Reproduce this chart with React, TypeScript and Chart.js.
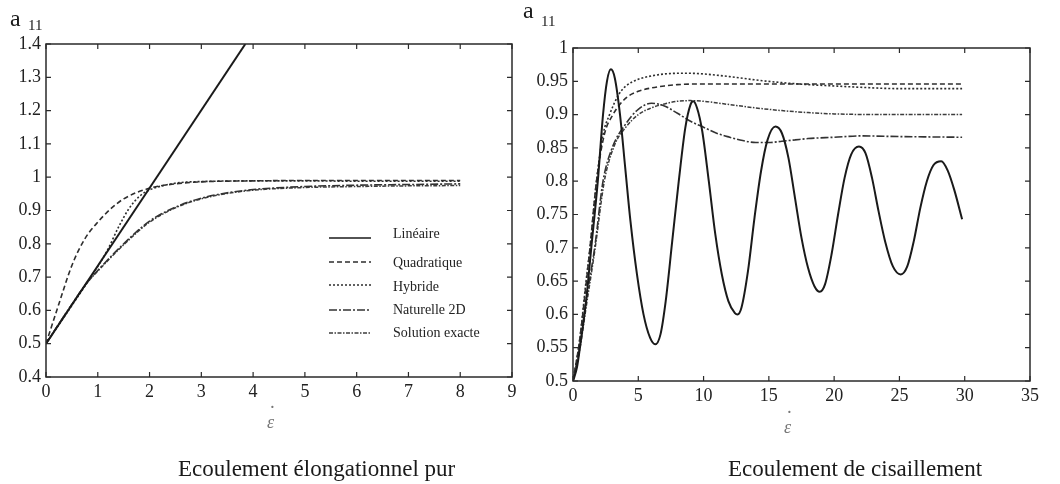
import React, { useEffect, useRef } from 'react';
import { Chart, registerables } from 'chart.js';

Chart.register(...registerables);

// ---------- Data: Ecoulement élongationnel pur ----------
const seriesLabels = ['Linéaire', 'Quadratique', 'Hybride', 'Naturelle 2D', 'Solution exacte'];

const elongLinX = [0, 3.85];
const elongLinY = [0.5, 1.4];
const elongQuadX = [0, 0.25, 0.5, 0.75, 1, 1.25, 1.5, 2, 2.5, 3, 4, 5, 6, 7, 8];
const elongQuadY = [0.5, 0.62, 0.735, 0.815, 0.865, 0.905, 0.935, 0.967, 0.98, 0.986, 0.989, 0.99, 0.99, 0.99, 0.99];
const elongHybX = [0, 0.5, 1, 1.2, 1.4, 1.6, 1.8, 2, 2.3, 2.6, 3, 4, 5, 6, 7, 8];
const elongHybY = [0.5, 0.615, 0.732, 0.785, 0.85, 0.905, 0.942, 0.962, 0.976, 0.984, 0.987, 0.989, 0.989, 0.988, 0.988, 0.988];
const elongNatX = [0, 0.4, 0.8, 1, 1.5, 2, 2.5, 3, 3.5, 4, 5, 6, 7, 8];
const elongNatY = [0.5, 0.595, 0.685, 0.72, 0.8, 0.868, 0.91, 0.937, 0.953, 0.963, 0.972, 0.976, 0.978, 0.98];
const elongExX = [0, 0.4, 0.8, 1, 1.5, 2, 2.5, 3, 3.5, 4, 5, 6, 7, 8];
const elongExY = [0.5, 0.595, 0.684, 0.718, 0.797, 0.865, 0.908, 0.935, 0.951, 0.961, 0.969, 0.972, 0.974, 0.975];

// ---------- Data: Ecoulement de cisaillement ----------
const shearLinX = [0, 0.3, 0.6, 1.0, 1.4, 1.9, 2.3, 2.6, 2.9, 3.2, 3.6, 4.0, 4.4, 4.9, 5.4, 5.9, 6.3, 6.7, 7.1, 7.6, 8.1, 8.6, 9.0, 9.2, 9.5, 9.9, 10.4, 10.9, 11.4, 11.9, 12.4, 12.6, 12.9, 13.4, 13.9, 14.4, 14.9, 15.5, 16.0, 16.5, 17.0, 17.5, 18.0, 18.5, 18.9, 19.3, 19.8, 20.3, 20.8, 21.3, 21.9, 22.4, 22.9, 23.4, 23.9, 24.5, 25.1, 25.6, 26.1, 26.6, 27.1, 27.6, 28.2, 28.7, 29.2, 29.8];
const shearLinY = [0.5, 0.52, 0.56, 0.62, 0.7, 0.8, 0.9, 0.95, 0.968, 0.955, 0.9, 0.82, 0.74, 0.66, 0.6, 0.565, 0.555, 0.57, 0.62, 0.71, 0.8, 0.88, 0.915, 0.92, 0.91, 0.875, 0.8, 0.72, 0.66, 0.62, 0.602, 0.6, 0.61, 0.665, 0.745, 0.815, 0.862, 0.882, 0.872, 0.835, 0.775, 0.715, 0.67, 0.642, 0.634, 0.645, 0.69, 0.75, 0.805, 0.84, 0.852, 0.842, 0.805, 0.755, 0.71, 0.672, 0.66, 0.672, 0.71, 0.76, 0.8, 0.824, 0.83, 0.816, 0.787, 0.743];
const shearQuadX = [0, 0.5, 1, 1.3, 1.8, 2.4, 3.06, 4, 5, 6, 7, 8, 10, 15, 20, 25, 29.8];
const shearQuadY = [0.5, 0.56, 0.645, 0.7, 0.8, 0.87, 0.9, 0.924, 0.935, 0.94, 0.943, 0.945, 0.946, 0.946, 0.946, 0.946, 0.946];
const shearHybX = [0, 0.5, 1, 1.3, 1.8, 2.3, 2.8, 3.5, 4, 5, 6, 7, 8, 9, 10, 12, 14, 16, 18, 20, 22, 25, 29.8];
const shearHybY = [0.5, 0.56, 0.65, 0.7, 0.8, 0.87, 0.9, 0.93, 0.942, 0.953, 0.958, 0.961, 0.962, 0.962, 0.961, 0.957, 0.952, 0.948, 0.945, 0.943, 0.941, 0.939, 0.939];
const shearNatX = [0, 0.5, 1, 1.66, 2.3, 3, 4, 5, 6, 7, 8, 9, 10, 11, 12, 13, 14, 15, 16, 17, 18, 20, 22, 25, 29.8];
const shearNatY = [0.5, 0.55, 0.62, 0.7, 0.8, 0.85, 0.885, 0.908, 0.917, 0.913, 0.902, 0.89, 0.881, 0.872, 0.866, 0.861, 0.858, 0.858, 0.86, 0.862, 0.864, 0.866, 0.868, 0.867, 0.866];
const shearExX = [0, 0.5, 1, 1.7, 2.4, 3.2, 4, 5, 6, 7, 8, 9, 10, 12, 14, 16, 18, 20, 25, 29.8];
const shearExY = [0.5, 0.545, 0.61, 0.7, 0.8, 0.855, 0.88, 0.9, 0.91, 0.916, 0.92, 0.921, 0.92, 0.915, 0.91, 0.906, 0.903, 0.901, 0.9, 0.9];

const elongXTicks = { min: 0, max: 9, step: 1 };
const elongYTicks = { min: 0.4, max: 1.4, step: 0.1 };
const shearXTicks = { min: 0, max: 35, step: 5 };
const shearYTicks = { min: 0.5, max: 1, step: 0.05 };

const styles = [
  { color: '#1a1a1a', width: 2, dash: [] as number[] },
  { color: '#2e2e2e', width: 1.6, dash: [5, 3] },
  { color: '#2e2e2e', width: 1.6, dash: [2, 2] },
  { color: '#333', width: 1.6, dash: [8, 2, 2, 2] },
  { color: '#3c3c3c', width: 1.5, dash: [4, 1.5, 1.5, 1.5] },
];

const pts = (xs: number[], ys: number[]) => xs.map((x, i) => ({ x, y: ys[i] }));

const FONT = '"Liberation Serif", "Times New Roman", serif';

const framePlugin = {
  id: 'frame',
  afterDraw(chart: any) {
    const { ctx, chartArea: a, scales } = chart;
    ctx.save();
    ctx.strokeStyle = '#2a2a2a';
    ctx.lineWidth = 1.5;
    ctx.strokeRect(a.left, a.top, a.right - a.left, a.bottom - a.top);
    ctx.lineWidth = 1.2;
    const L = 5;
    scales.x.ticks.forEach((t: any) => {
      const px = scales.x.getPixelForValue(t.value);
      ctx.beginPath();
      ctx.moveTo(px, a.bottom);
      ctx.lineTo(px, a.bottom - L);
      ctx.moveTo(px, a.top);
      ctx.lineTo(px, a.top + L);
      ctx.stroke();
    });
    scales.y.ticks.forEach((t: any) => {
      const py = scales.y.getPixelForValue(t.value);
      ctx.beginPath();
      ctx.moveTo(a.left, py);
      ctx.lineTo(a.left + L, py);
      ctx.moveTo(a.right, py);
      ctx.lineTo(a.right - L, py);
      ctx.stroke();
    });
    ctx.restore();
  },
};

const legendPlugin = {
  id: 'insideLegend',
  afterDraw(chart: any) {
    const { ctx } = chart;
    const lineRows = [238, 262, 285, 310, 333];
    const textRows = [234, 263, 287, 310, 333];
    chart.data.datasets.forEach((ds: any, i: number) => {
      ctx.save();
      ctx.strokeStyle = ds.borderColor;
      ctx.lineWidth = Math.min(ds.borderWidth, 1.5);
      ctx.setLineDash(ds.borderDash || []);
      ctx.beginPath();
      ctx.moveTo(329, lineRows[i]);
      ctx.lineTo(371, lineRows[i]);
      ctx.stroke();
      ctx.setLineDash([]);
      ctx.fillStyle = '#222';
      ctx.font = `14px ${FONT}`;
      ctx.textBaseline = 'middle';
      ctx.fillText(ds.label, 393, textRows[i]);
      ctx.restore();
    });
  },
};

const fmt = (v: any) => String(+Number(v).toFixed(2));

function makeConfig(
  series: { x: number[]; y: number[] }[],
  xt: { min: number; max: number; step: number },
  yt: { min: number; max: number; step: number },
  yWidth: number,
  padding: { top: number; right: number; bottom: number },
  plugins: any[]
): any {
  return {
    type: 'line',
    data: {
      datasets: series.map((s, i) => ({
        label: seriesLabels[i],
        data: pts(s.x, s.y),
        borderColor: styles[i].color,
        borderWidth: styles[i].width,
        borderDash: styles[i].dash,
        pointRadius: 0,
        fill: false,
        cubicInterpolationMode: 'monotone',
      })),
    },
    options: {
      responsive: false,
      animation: false,
      devicePixelRatio: 1,
      layout: { padding: { left: 0, top: padding.top, right: padding.right, bottom: padding.bottom } },
      plugins: { legend: { display: false }, tooltip: { enabled: false } },
      scales: {
        x: {
          type: 'linear',
          min: xt.min,
          max: xt.max,
          grid: { display: false, drawTicks: false, tickLength: 0 },
          border: { display: false },
          ticks: { stepSize: xt.step, padding: 4, color: '#222', font: { family: FONT, size: 18 }, maxRotation: 0, callback: fmt },
          afterFit: (s: any) => { s.height = 30; },
        },
        y: {
          type: 'linear',
          min: yt.min,
          max: yt.max,
          grid: { display: false, drawTicks: false, tickLength: 0 },
          border: { display: false },
          ticks: { stepSize: yt.step, padding: 5, color: '#222', font: { family: FONT, size: 18 }, callback: fmt },
          afterFit: (s: any) => { s.width = yWidth; },
        },
      },
    },
    plugins,
  };
}

function ChartCanvas({ config, left, width }: { config: any; left: number; width: number }) {
  const ref = useRef<HTMLCanvasElement | null>(null);
  useEffect(() => {
    if (!ref.current) return;
    const chart = new Chart(ref.current, config);
    return () => chart.destroy();
  }, []);
  return (
    <canvas
      ref={ref}
      width={width}
      height={484}
      style={{ position: 'absolute', left, top: 0, width, height: 484 }}
    />
  );
}

const textStyle: React.CSSProperties = {
  position: 'absolute',
  fontFamily: FONT,
  lineHeight: 1,
  color: '#1a1a1a',
  whiteSpace: 'nowrap',
};

function EpsDot({ cx, baseline }: { cx: number; baseline: number }) {
  // italic epsilon with a dot above (strain-rate symbol)
  return (
    <span style={{ ...textStyle, left: cx - 5, top: baseline - 15, fontSize: 18, fontStyle: 'italic', color: '#777' }}>
      <span style={{ position: 'absolute', left: 2, top: -10, fontStyle: 'normal', fontSize: 20 }}>˙</span>
      ε
    </span>
  );
}

export default function App() {
  useEffect(() => {
    document.body.style.margin = '0';
  }, []);

  const leftCfg = makeConfig(
    [
      { x: elongLinX, y: elongLinY },
      { x: elongQuadX, y: elongQuadY },
      { x: elongHybX, y: elongHybY },
      { x: elongNatX, y: elongNatY },
      { x: elongExX, y: elongExY },
    ],
    elongXTicks,
    elongYTicks,
    46,
    { top: 44, right: 18, bottom: 77 },
    [framePlugin, legendPlugin]
  );
  const rightCfg = makeConfig(
    [
      { x: shearLinX, y: shearLinY },
      { x: shearQuadX, y: shearQuadY },
      { x: shearHybX, y: shearHybY },
      { x: shearNatX, y: shearNatY },
      { x: shearExX, y: shearExY },
    ],
    shearXTicks,
    shearYTicks,
    53,
    { top: 48, right: 30, bottom: 73 },
    [framePlugin]
  );

  return (
    <div style={{ position: 'relative', width: 1060, height: 484, background: '#fff', overflow: 'hidden' }}>
      <ChartCanvas config={leftCfg} left={0} width={530} />
      <ChartCanvas config={rightCfg} left={520} width={540} />

      <span style={{ ...textStyle, left: 10, top: 6, fontSize: 24 }}>a</span>
      <span style={{ ...textStyle, left: 28, top: 18, fontSize: 15 }}>11</span>
      <span style={{ ...textStyle, left: 523, top: -2, fontSize: 24 }}>a</span>
      <span style={{ ...textStyle, left: 541, top: 14, fontSize: 15 }}>11</span>

      <EpsDot cx={272} baseline={428} />
      <EpsDot cx={789} baseline={433} />

      <span style={{ ...textStyle, left: 178, top: 457, fontSize: 23 }}>Ecoulement élongationnel pur</span>
      <span style={{ ...textStyle, left: 728, top: 457, fontSize: 23 }}>Ecoulement de cisaillement</span>
    </div>
  );
}
